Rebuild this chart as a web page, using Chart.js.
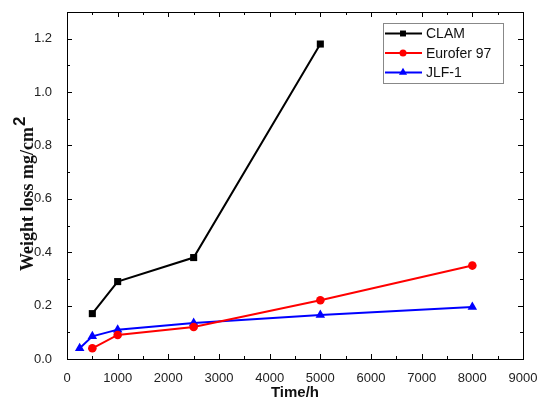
<!DOCTYPE html>
<html>
<head>
<meta charset="utf-8">
<script src="https://cdn.jsdelivr.net/npm/chart.js@4"></script>
<style>
  html, body { margin: 0; padding: 0; background: #fff; }
  #wrap { width: 537px; height: 398px; }
</style>
</head>
<body>
<div id="wrap"><canvas id="lossChart" width="537" height="398"></canvas></div>
<script>
// data
const clamHours = [500, 1000, 2500, 5000];
const clamLoss = [0.17, 0.29, 0.38, 1.18];
const euroHours = [500, 1000, 2500, 5000, 8000];
const euroLoss = [0.04, 0.09, 0.12, 0.22, 0.35];
const jlfHours = [250, 500, 1000, 2500, 5000, 8000];
const jlfLoss = [0.04, 0.085, 0.11, 0.135, 0.165, 0.195];

const xTicks = [0, 1000, 2000, 3000, 4000, 5000, 6000, 7000, 8000, 9000];
const yTicks = [0, 0.2, 0.4, 0.6, 0.8, 1.0, 1.2];

const seriesNames = ['CLAM', 'Eurofer 97', 'JLF-1'];
const seriesColors = ['#000000', '#ff0000', '#0000ff'];
const seriesMarkers = ['rect', 'circle', 'triangle'];

const toPoints = (xs, ys) => xs.map((x, i) => ({ x: x, y: ys[i] }));
const allData = [toPoints(clamHours, clamLoss), toPoints(euroHours, euroLoss), toPoints(jlfHours, jlfLoss)];
const markerSize = [5, 4.3, 5.5];

// box, inward ticks, axis titles and legend
const frameAndLegend = {
  id: 'frameAndLegend',
  afterDraw(chart) {
    const c = chart.ctx;
    const a = chart.chartArea;
    const xs = chart.scales.x, ys = chart.scales.y;
    c.save();
    c.strokeStyle = '#000';
    c.lineWidth = 1;
    c.strokeRect(a.left + 0.5, a.top + 0.5, a.right - a.left, a.bottom - a.top);
    c.beginPath();
    for (let v = 0; v <= 9000; v += 500) {
      const px = Math.round(xs.getPixelForValue(v)) + 0.5;
      const len = v % 1000 === 0 ? 5 : 3;
      c.moveTo(px, a.bottom); c.lineTo(px, a.bottom - len);
      c.moveTo(px, a.top); c.lineTo(px, a.top + len);
    }
    for (let k = 0; k <= 13; k++) {
      const py = Math.round(ys.getPixelForValue(k / 10)) + 0.5;
      const len = k % 2 === 0 ? 5 : 3;
      c.moveTo(a.left, py); c.lineTo(a.left + len, py);
      c.moveTo(a.right, py); c.lineTo(a.right - len, py);
    }
    c.stroke();

    // y title
    c.save();
    c.translate(33, 271);
    c.rotate(-Math.PI / 2);
    c.fillStyle = '#111';
    c.font = 'bold 18px "Liberation Serif"';
    c.textBaseline = 'alphabetic';
    const t = 'Weight loss mg/cm';
    c.fillText(t, 0, 0);
    const w = c.measureText(t).width;
    c.font = 'bold 17px "Liberation Sans"';
    c.fillText('2', w + 1, -8);
    c.restore();

    // x title
    c.fillStyle = '#111';
    c.font = 'bold 15px "Liberation Sans"';
    c.textAlign = 'center';
    c.textBaseline = 'alphabetic';
    c.fillText('Time/h', (a.left + a.right) / 2, 397);

    // legend
    c.strokeStyle = '#888';
    c.strokeRect(383.5, 23.5, 120, 60);
    c.textAlign = 'left';
    c.textBaseline = 'middle';
    c.font = '14px "Liberation Sans"';
    seriesNames.forEach((name, i) => {
      const y = 33.5 + i * 19.5;
      c.strokeStyle = seriesColors[i];
      c.lineWidth = 2;
      c.beginPath();
      c.moveTo(385, y); c.lineTo(422, y);
      c.stroke();
      c.fillStyle = seriesColors[i];
      Chart.helpers.drawPoint(c, { pointStyle: seriesMarkers[i], radius: markerSize[i] - 0.8, borderWidth: 0 }, 403, y);
      c.fillStyle = '#111';
      c.fillText(name, 426, y + 1);
    });
    c.restore();
  }
};

new Chart(document.getElementById('lossChart').getContext('2d'), {
  type: 'scatter',
  data: {
    datasets: seriesNames.map((name, i) => ({
      label: name,
      data: allData[i],
      showLine: true,
      borderColor: seriesColors[i],
      backgroundColor: seriesColors[i],
      borderWidth: 2,
      pointStyle: seriesMarkers[i],
      pointRadius: markerSize[i],
      pointBorderWidth: 0,
      tension: 0
    }))
  },
  options: {
    responsive: false,
    animation: false,
    layout: { padding: { left: 0, top: 12, right: 14, bottom: 0 } },
    plugins: { legend: { display: false }, tooltip: { enabled: false } },
    scales: {
      x: {
        type: 'linear',
        min: 0, max: 9000,
        afterBuildTicks: s => { s.ticks = xTicks.map(v => ({ value: v })); },
        afterFit: s => { s.height = 39; s.paddingLeft = 0; s.paddingRight = 0; },
        grid: { display: false },
        border: { display: false },
        ticks: {
          color: '#222', font: { family: 'Liberation Sans', size: 13 }, padding: 4,
          maxRotation: 0, autoSkip: false, callback: v => String(v)
        }
      },
      y: {
        type: 'linear',
        min: 0, max: 1.3,
        afterBuildTicks: s => { s.ticks = yTicks.map(v => ({ value: v })); },
        afterFit: s => { s.width = 67; s.paddingTop = 0; s.paddingBottom = 0; },
        grid: { display: false },
        border: { display: false },
        ticks: {
          color: '#222', font: { family: 'Liberation Sans', size: 13 }, padding: 7,
          callback: v => v.toFixed(1)
        }
      }
    }
  },
  plugins: [frameAndLegend]
});
</script>
</body>
</html>
